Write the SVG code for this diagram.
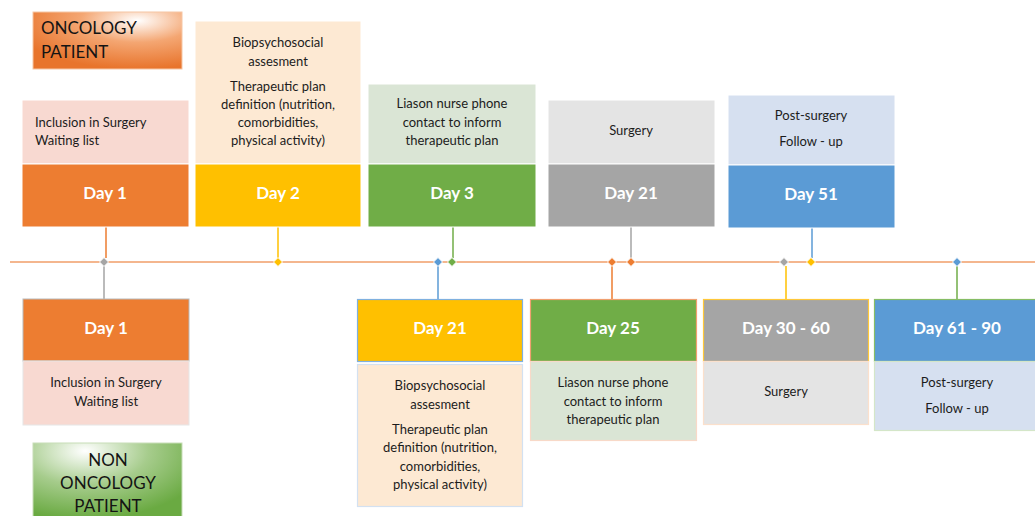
<svg xmlns="http://www.w3.org/2000/svg" width="1035" height="516" viewBox="0 0 1035 516">
  <defs>
    <radialGradient id="gradOnc" cx="0.7" cy="0.15" r="0.85" fx="0.7" fy="0.15">
      <stop offset="0" stop-color="#ffffff"/>
      <stop offset="0.45" stop-color="#F4A672"/>
      <stop offset="1" stop-color="#E8742C"/>
    </radialGradient>
    <radialGradient id="gradNon" cx="0.35" cy="0.1" r="0.85" fx="0.35" fy="0.1">
      <stop offset="0" stop-color="#ffffff"/>
      <stop offset="0.5" stop-color="#A6CC8C"/>
      <stop offset="1" stop-color="#6AAA42"/>
    </radialGradient>
    <style>
      .lbl { font-family: Lato, "Liberation Sans", sans-serif; font-size: 13px; fill: #1c1c1c; text-anchor: middle; }
      .lbl.start { text-anchor: start; }
      .day { font-family: Lato, "Liberation Sans", sans-serif; font-size: 17px; font-weight: bold; fill: #ffffff; text-anchor: middle; }
      .pat { font-family: Lato, "Liberation Sans", sans-serif; font-size: 17px; fill: #141414; }
      .pat.mid { text-anchor: middle; }
      .edge { stroke: #ffffff; stroke-width: 1; }
      .tl { stroke: #F19E68; stroke-width: 1.6; fill: none; }
      .c { stroke-width: 1.5; fill: none; }
      .dm { stroke: #ffffff; stroke-width: 1; }
    </style>
  </defs>
  <rect width="1035" height="516" fill="#ffffff"/>

  <!-- patient category tags -->
  <g id="oncology-patient">
    <rect x="33" y="12" width="149" height="57" fill="url(#gradOnc)" stroke="#F6C6A4" stroke-width="1"/>
    <text class="pat" x="41" y="34">ONCOLOGY</text>
    <text class="pat" x="41" y="58">PATIENT</text>
  </g>
  <g id="non-oncology-patient">
    <rect x="33" y="443" width="149" height="80" fill="url(#gradNon)" stroke="#C7DDB8" stroke-width="1"/>
    <text class="pat mid" x="108" y="466">NON</text>
    <text class="pat mid" x="108" y="489">ONCOLOGY</text>
    <text class="pat mid" x="108" y="512">PATIENT</text>
  </g>

  <!-- timeline and connectors -->
  <g id="connectors">
    <line class="tl" x1="10" y1="262" x2="1035" y2="262"/>
    <line class="c" stroke="#ED7D31" x1="106" y1="227" x2="106" y2="258"/>
    <line class="c" stroke="#A5A5A5" x1="104" y1="266" x2="104" y2="299"/>
    <line class="c" stroke="#FFC000" x1="278" y1="227" x2="278" y2="258"/>
    <line class="c" stroke="#70AD47" x1="453" y1="227" x2="453" y2="258"/>
    <line class="c" stroke="#5B9BD5" x1="438" y1="266" x2="438" y2="299"/>
    <line class="c" stroke="#A5A5A5" x1="631" y1="227" x2="631" y2="258"/>
    <line class="c" stroke="#ED7D31" x1="612" y1="266" x2="612" y2="299"/>
    <line class="c" stroke="#5B9BD5" x1="812" y1="228" x2="812" y2="258"/>
    <line class="c" stroke="#FFC000" x1="786" y1="266" x2="786" y2="299"/>
    <line class="c" stroke="#70AD47" x1="957" y1="266" x2="957" y2="299"/>
    <g class="dm">
      <path d="M104 257.5 L108.5 262 L104 266.5 L99.5 262 Z" fill="#A5A5A5"/>
      <path d="M278 257.5 L282.5 262 L278 266.5 L273.5 262 Z" fill="#FFC000"/>
      <path d="M438 257.5 L442.5 262 L438 266.5 L433.5 262 Z" fill="#5B9BD5"/>
      <path d="M452 257.5 L456.5 262 L452 266.5 L447.5 262 Z" fill="#70AD47"/>
      <path d="M612 257.5 L616.5 262 L612 266.5 L607.5 262 Z" fill="#ED7D31"/>
      <path d="M631 257.5 L635.5 262 L631 266.5 L626.5 262 Z" fill="#ED7D31"/>
      <path d="M784 257.5 L788.5 262 L784 266.5 L779.5 262 Z" fill="#A5A5A5"/>
      <path d="M811 257.5 L815.5 262 L811 266.5 L806.5 262 Z" fill="#FFC000"/>
      <path d="M957 257.5 L961.5 262 L957 266.5 L952.5 262 Z" fill="#5B9BD5"/>
    </g>
  </g>

  <!-- oncology pathway (above the timeline) -->
  <g id="onc-day1">
    <rect class="edge" x="22" y="100" width="167" height="64" fill="#F8D9D1"/>
    <rect class="edge" x="22" y="164" width="167" height="63" fill="#ED7D31"/>
    <text class="lbl start" x="35" y="127">Inclusion in Surgery</text>
    <text class="lbl start" x="35" y="145">Waiting list</text>
    <text class="day" x="105" y="199">Day 1</text>
  </g>
  <g id="onc-day2">
    <rect class="edge" x="195" y="21" width="166" height="143" fill="#FDE9D3"/>
    <rect class="edge" x="195" y="164" width="166" height="63" fill="#FFC000"/>
    <text class="lbl" x="278" y="47">Biopsychosocial</text>
    <text class="lbl" x="278" y="66">assesment</text>
    <text class="lbl" x="278" y="91">Therapeutic plan</text>
    <text class="lbl" x="278" y="109">definition (nutrition,</text>
    <text class="lbl" x="278" y="127">comorbidities,</text>
    <text class="lbl" x="278" y="145">physical activity)</text>
    <text class="day" x="278" y="199">Day 2</text>
  </g>
  <g id="onc-day3">
    <rect class="edge" x="368" y="84" width="168" height="80" fill="#DAE5D5"/>
    <rect class="edge" x="368" y="164" width="168" height="63" fill="#70AD47"/>
    <text class="lbl" x="452" y="108">Liason nurse phone</text>
    <text class="lbl" x="452" y="127">contact to inform</text>
    <text class="lbl" x="452" y="145">therapeutic plan</text>
    <text class="day" x="452" y="199">Day 3</text>
  </g>
  <g id="onc-day21">
    <rect class="edge" x="548" y="100" width="167" height="64" fill="#E4E4E4"/>
    <rect class="edge" x="548" y="164" width="167" height="63" fill="#A5A5A5"/>
    <text class="lbl" x="631" y="135">Surgery</text>
    <text class="day" x="631" y="199">Day 21</text>
  </g>
  <g id="onc-day51">
    <rect class="edge" x="728" y="95" width="167" height="70" fill="#D6E0F0"/>
    <rect class="edge" x="728" y="165" width="167" height="63" fill="#5B9BD5"/>
    <text class="lbl" x="811" y="120">Post-surgery</text>
    <text class="lbl" x="811" y="146">Follow - up</text>
    <text class="day" x="811" y="200">Day 51</text>
  </g>

  <!-- non-oncology pathway (below the timeline) -->
  <g id="non-day1">
    <rect x="23" y="299" width="166" height="62" fill="#ED7D31" stroke="#B9B9B9" stroke-width="1"/>
    <rect x="23" y="361" width="166" height="64" fill="#F8D9D1" stroke="#E6E6E6" stroke-width="1"/>
    <text class="day" x="106" y="334">Day 1</text>
    <text class="lbl" x="106" y="387">Inclusion in Surgery</text>
    <text class="lbl" x="106" y="406">Waiting list</text>
  </g>
  <g id="non-day21">
    <rect x="357.5" y="299.5" width="165" height="62" fill="#FFC000" stroke="#7FB0DF" stroke-width="1.2"/>
    <rect x="357.5" y="364.5" width="165" height="142" fill="#FDE9D3" stroke="#D3E1F1" stroke-width="1.2"/>
    <text class="day" x="440" y="334">Day 21</text>
    <text class="lbl" x="440" y="390">Biopsychosocial</text>
    <text class="lbl" x="440" y="409">assesment</text>
    <text class="lbl" x="440" y="434">Therapeutic plan</text>
    <text class="lbl" x="440" y="452">definition (nutrition,</text>
    <text class="lbl" x="440" y="471">comorbidities,</text>
    <text class="lbl" x="440" y="489">physical activity)</text>
  </g>
  <g id="non-day25">
    <rect x="530.5" y="299.5" width="166" height="62" fill="#70AD47" stroke="#F0A070" stroke-width="1.2"/>
    <rect x="530.5" y="361.5" width="166" height="79" fill="#DAE5D5" stroke="#F8D9C8" stroke-width="1.2"/>
    <text class="day" x="613" y="334">Day 25</text>
    <text class="lbl" x="613" y="387">Liason nurse phone</text>
    <text class="lbl" x="613" y="406">contact to inform</text>
    <text class="lbl" x="613" y="424">therapeutic plan</text>
  </g>
  <g id="non-day30-60">
    <rect x="703.5" y="299.5" width="165" height="62" fill="#A5A5A5" stroke="#FFC83A" stroke-width="1.2"/>
    <rect x="703.5" y="361.5" width="165" height="63" fill="#E4E4E4" stroke="#FBE0CC" stroke-width="1.2"/>
    <text class="day" x="786" y="334">Day 30 - 60</text>
    <text class="lbl" x="786" y="396">Surgery</text>
  </g>
  <g id="non-day61-90">
    <rect x="874.5" y="299.5" width="165" height="62" fill="#5B9BD5" stroke="#86BD66" stroke-width="1.2"/>
    <rect x="874.5" y="361.5" width="165" height="69" fill="#D6E0F0" stroke="#D4E6C8" stroke-width="1.2"/>
    <text class="day" x="957" y="334">Day 61 - 90</text>
    <text class="lbl" x="957" y="387">Post-surgery</text>
    <text class="lbl" x="957" y="413">Follow - up</text>
  </g>
</svg>
